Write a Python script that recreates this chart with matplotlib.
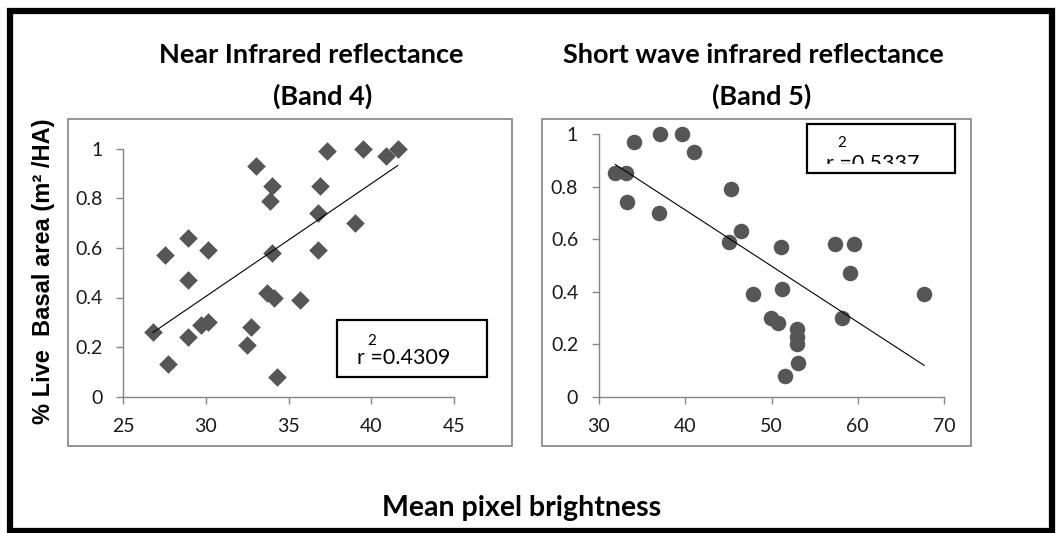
import numpy as np
import matplotlib
matplotlib.use("Agg")
import matplotlib.pyplot as plt
from matplotlib.patches import Rectangle

plt.rcParams['font.family'] = ['Lato', 'DejaVu Sans']

# data
# Band 4 (near infrared): mean pixel brightness vs % live basal area
nir_x = [26.8, 27.7, 27.5, 28.9, 28.9, 28.9, 29.7, 30.1, 30.1, 32.5, 32.7, 33.0,
         34.0, 33.9, 34.0, 33.7, 34.1, 34.3, 35.7, 36.8, 36.9, 36.8, 37.3, 39.0,
         39.5, 40.9, 41.6]
nir_y = [0.26, 0.13, 0.57, 0.64, 0.47, 0.24, 0.29, 0.30, 0.59, 0.21, 0.28, 0.93,
         0.85, 0.79, 0.58, 0.42, 0.40, 0.08, 0.39, 0.74, 0.85, 0.59, 0.99, 0.70,
         1.00, 0.97, 1.00]
nir_r2 = "0.4309"

# Band 5 (short wave infrared)
swir_x = [31.9, 33.1, 33.3, 34.1, 37.1, 39.6, 41.0, 37.0, 45.3, 45.1, 46.5, 47.8,
          51.1, 51.2, 49.9, 50.8, 52.9, 52.9, 52.9, 53.1, 51.6, 57.4, 59.6, 59.1,
          58.2, 67.7]
swir_y = [0.85, 0.85, 0.74, 0.97, 1.00, 1.00, 0.93, 0.70, 0.79, 0.59, 0.63, 0.39,
          0.57, 0.41, 0.30, 0.28, 0.26, 0.23, 0.20, 0.13, 0.08, 0.58, 0.58, 0.47,
          0.30, 0.39]
swir_r2 = "0.5337"

W, H = 1056, 533
fig = plt.figure(figsize=(W / 100, H / 100), dpi=100)


def fx(px):
    return px / W


def fy(py):
    return 1 - py / H


def px_axes(l, t, r, b):
    return [fx(l), fy(b), (r - l) / W, (b - t) / H]


axis_grey = '#868686'
mark_grey = '#565656'

# outer black frame and the two chart area boxes
fig.patches.append(Rectangle((fx(9.5), fy(531)), fx(1052) - fx(9.5), fy(10.5) - fy(531),
                             transform=fig.transFigure, fill=False, ec='black', lw=4.5))
for l, r in [(68, 512), (542, 971)]:
    fig.patches.append(Rectangle((fx(l), fy(446)), fx(r) - fx(l), fy(119) - fy(446),
                                 transform=fig.transFigure, fill=False, ec='#8c8c8c', lw=1.3))


def style(ax, xlim, xticks):
    ax.set_xlim(*xlim)
    ax.set_ylim(0, 1)
    ax.set_xticks(xticks)
    ax.set_yticks([0, 0.2, 0.4, 0.6, 0.8, 1.0])
    ax.set_yticklabels(['0', '0.2', '0.4', '0.6', '0.8', '1'])
    for s in ['top', 'right']:
        ax.spines[s].set_visible(False)
    for s in ['left', 'bottom']:
        ax.spines[s].set_color(axis_grey)
        ax.spines[s].set_linewidth(1.0)
    ax.tick_params(colors=axis_grey, labelcolor='#1a1a1a', labelsize=14,
                   length=5, width=1.0, direction='out')
    ax.tick_params(axis='x', pad=10)
    ax.tick_params(axis='y', pad=10)
    ax.patch.set_alpha(0)


def trend(ax, x, y):
    k, b = np.polyfit(x, y, 1)
    xs = np.array([min(x), max(x)])
    ax.plot(xs, k * xs + b, color='black', lw=0.8, zorder=3)


ax1 = fig.add_axes(px_axes(123.3, 148.7, 454, 396.7))
style(ax1, (25, 45), [25, 30, 35, 40, 45])
ax1.scatter(nir_x, nir_y, marker='D', s=90, color=mark_grey, lw=0, clip_on=False, zorder=2)
trend(ax1, nir_x, nir_y)

ax2 = fig.add_axes(px_axes(599, 134, 944, 397))
style(ax2, (30, 70), [30, 40, 50, 60, 70])
ax2.scatter(swir_x, swir_y, marker='o', s=125, color=mark_grey, lw=0, clip_on=False, zorder=2)
trend(ax2, swir_x, swir_y)

# r squared boxes
fig.patches.append(Rectangle((fx(337), fy(377)), fx(487) - fx(337), fy(320) - fy(377),
                             transform=fig.transFigure, fill=False, ec='black', lw=1.6))
fig.text(fx(357), fy(364), "r =" + nir_r2, fontsize=15.5, va='baseline', ha='left')
fig.text(fx(367), fy(345), "2", fontsize=11, va='baseline', ha='left')

fig.patches.append(Rectangle((fx(807), fy(173)), fx(955) - fx(807), fy(124) - fy(173),
                             transform=fig.transFigure, fill=False, ec='black', lw=1.6))
clip = Rectangle((fx(807), fy(164.5)), fx(955) - fx(807), fy(124) - fy(164.5),
                 transform=fig.transFigure)
t = fig.text(fx(826), fy(170), "r =" + swir_r2, fontsize=15.5, va='baseline', ha='left')
t.set_clip_path(clip)
fig.text(fx(837), fy(147), "2", fontsize=11, va='baseline', ha='left')

# titles and labels
fig.text(fx(311), fy(63), "Near Infrared reflectance", fontsize=19.5, fontweight='bold',
         ha='center', va='baseline')
fig.text(fx(323), fy(105), "(Band 4)", fontsize=19.5, fontweight='bold', ha='center', va='baseline')
fig.text(fx(753), fy(63), "Short wave infrared reflectance", fontsize=19.5, fontweight='bold',
         ha='center', va='baseline')
fig.text(fx(762), fy(105), "(Band 5)", fontsize=19.5, fontweight='bold', ha='center', va='baseline')

fig.text(fx(44), fy(271), "% Live  Basal area (m\u00b2 /HA)", fontsize=17, fontweight='bold',
         family=['Liberation Sans', 'DejaVu Sans'], rotation=90, ha='center', va='center')
fig.text(fx(522), fy(516), "Mean pixel brightness", fontsize=20.5, fontweight='bold',
         ha='center', va='baseline')

fig.savefig("out.png", dpi=100)
